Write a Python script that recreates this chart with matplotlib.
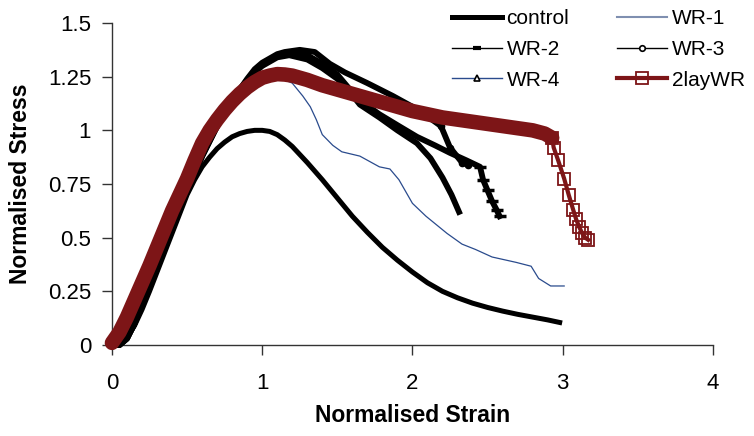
import numpy as np
import matplotlib.pyplot as plt
from matplotlib.lines import Line2D

plt.rcParams['font.family'] = ['Liberation Sans', 'DejaVu Sans']

# control
control_x = [0, 0.05, 0.1, 0.15, 0.2, 0.25, 0.3, 0.35, 0.4, 0.45, 0.5, 0.55, 0.6, 0.65, 0.7,
             0.75, 0.8, 0.85, 0.9, 0.95, 1.0, 1.05, 1.1, 1.15, 1.2, 1.3, 1.4, 1.5, 1.6, 1.7,
             1.8, 1.9, 2.0, 2.1, 2.2, 2.3, 2.4, 2.5, 2.6, 2.7, 2.8, 2.9, 2.98]
control_y = [0, 0.005, 0.035, 0.09, 0.165, 0.25, 0.34, 0.43, 0.52, 0.61, 0.70, 0.77, 0.83, 0.875, 0.915,
             0.945, 0.97, 0.985, 0.995, 1.0, 1.0, 0.995, 0.98, 0.955, 0.925, 0.85, 0.77, 0.685, 0.60, 0.525,
             0.455, 0.395, 0.34, 0.29, 0.25, 0.22, 0.195, 0.175, 0.158, 0.143, 0.13, 0.117, 0.105]

# WR-1
wr1_x = [0, 0.1, 0.2, 0.3, 0.4, 0.5, 0.6, 0.7, 0.8, 0.9, 1.0, 1.1, 1.2, 1.27, 1.32, 1.36, 1.40,
         1.47, 1.53, 1.65, 1.78, 1.85, 1.91, 2.0, 2.09, 2.23, 2.33, 2.42, 2.53, 2.69, 2.79, 2.84,
         2.92, 3.01]
wr1_y = [0, 0.12, 0.28, 0.45, 0.62, 0.77, 0.93, 1.04, 1.13, 1.19, 1.23, 1.25, 1.22, 1.16, 1.11, 1.05, 0.98,
         0.93, 0.90, 0.88, 0.83, 0.82, 0.77, 0.66, 0.60, 0.52, 0.47, 0.445, 0.41, 0.385, 0.367, 0.31,
         0.275, 0.275]

# WR-2
wr2_x = [0, 0.05, 0.1, 0.15, 0.2, 0.25, 0.3, 0.35, 0.4, 0.45, 0.5, 0.55, 0.6, 0.65, 0.7, 0.75,
         0.8, 0.85, 0.9, 0.95, 1.0, 1.05, 1.1, 1.2, 1.3, 1.4, 1.5, 1.56, 1.63, 1.71, 1.78, 1.91,
         2.03, 2.15, 2.25, 2.36, 2.45, 2.47, 2.50, 2.53, 2.56, 2.58]
wr2_y = [0, 0.0, 0.03, 0.10, 0.19, 0.28, 0.37, 0.46, 0.55, 0.64, 0.72, 0.80, 0.88, 0.95, 1.02, 1.08,
         1.14, 1.19, 1.235, 1.28, 1.31, 1.33, 1.345, 1.36, 1.35, 1.31, 1.26, 1.21, 1.15, 1.11, 1.075, 1.02,
         0.97, 0.93, 0.895, 0.86, 0.83, 0.77, 0.72, 0.67, 0.63, 0.60]

# WR-3
wr3_x = [0, 0.05, 0.1, 0.15, 0.2, 0.25, 0.3, 0.35, 0.4, 0.45, 0.5, 0.55, 0.6, 0.65, 0.7, 0.75,
         0.8, 0.85, 0.9, 0.95, 1.0, 1.05, 1.1, 1.15, 1.25, 1.35, 1.45, 1.55, 1.7, 1.87, 2.0,
         2.1, 2.19, 2.25, 2.33, 2.37]
wr3_y = [0, 0.0, 0.03, 0.10, 0.19, 0.28, 0.37, 0.46, 0.55, 0.64, 0.72, 0.80, 0.88, 0.95, 1.02, 1.08,
         1.14, 1.19, 1.24, 1.285, 1.315, 1.335, 1.355, 1.365, 1.375, 1.365, 1.31, 1.27, 1.22, 1.16, 1.11,
         1.065, 1.02, 0.92, 0.85, 0.84]

# WR-4
wr4_x = [0, 0.05, 0.1, 0.15, 0.2, 0.25, 0.3, 0.35, 0.4, 0.45, 0.5, 0.55, 0.6, 0.65, 0.7, 0.75,
         0.8, 0.85, 0.9, 0.95, 1.0, 1.05, 1.1, 1.18, 1.3, 1.4, 1.5, 1.56, 1.65, 1.78, 1.9, 2.03,
         2.12, 2.2, 2.26, 2.31]
wr4_y = [0, 0.0, 0.03, 0.10, 0.19, 0.28, 0.37, 0.46, 0.55, 0.64, 0.72, 0.80, 0.88, 0.95, 1.02, 1.08,
         1.14, 1.19, 1.23, 1.27, 1.30, 1.32, 1.34, 1.35, 1.33, 1.29, 1.24, 1.20, 1.12, 1.06, 1.0, 0.94,
         0.87, 0.78, 0.70, 0.62]

# 2layWR
lay_x = [0, 0.05, 0.1, 0.15, 0.2, 0.25, 0.3, 0.35, 0.4, 0.45, 0.5, 0.55, 0.6, 0.65, 0.7, 0.75,
         0.8, 0.85, 0.9, 0.95, 1.0, 1.05, 1.1, 1.15, 1.2, 1.3, 1.4, 1.5, 1.6, 1.7, 1.8, 1.9,
         2.0, 2.1, 2.2, 2.3, 2.4, 2.5, 2.6, 2.7, 2.8, 2.88, 2.93,
         2.94, 2.97, 3.01, 3.04, 3.07, 3.09, 3.11, 3.13, 3.15, 3.17]
lay_y = [0.01, 0.06, 0.13, 0.21, 0.29, 0.37, 0.455, 0.54, 0.625, 0.70, 0.775, 0.86, 0.94, 1.0, 1.05, 1.095,
         1.135, 1.17, 1.20, 1.225, 1.245, 1.255, 1.262, 1.26, 1.255, 1.235, 1.21, 1.19, 1.17, 1.15, 1.13, 1.11,
         1.09, 1.075, 1.06, 1.05, 1.04, 1.03, 1.02, 1.01, 1.0, 0.985, 0.965,
         0.92, 0.86, 0.775, 0.70, 0.63, 0.585, 0.55, 0.52, 0.50, 0.49]
knee = 42  # last point of the flat part

red = '#7d1517'
navy = '#2a4b8d'

fig = plt.figure(figsize=(7.54, 4.36), dpi=100)
ax = fig.add_axes([0.1485, 0.2087, 0.797, 0.7385])

ax.plot(control_x, control_y, color='black', lw=3.6, clip_on=False, zorder=3)
ax.plot(wr1_x, wr1_y, color=navy, lw=0.9, clip_on=False, zorder=4)
ax.plot(wr2_x, wr2_y, color='black', lw=4.2, clip_on=False, zorder=3)
ax.plot(wr3_x, wr3_y, color='black', lw=4.2, clip_on=False, zorder=3)
ax.plot(wr3_x[-4:], wr3_y[-4:], ls='none', marker='o', ms=4.5, mfc='black', mec='black', mew=1,
        clip_on=False, zorder=3)
ax.plot(wr4_x, wr4_y, color='black', lw=4.2, clip_on=False, zorder=3)
ax.plot(wr2_x[-6:], wr2_y[-6:], ls='none', marker='_', ms=8, mew=2.5, color='black', clip_on=False, zorder=3)

# dense band of square markers before the drop
ax.plot(lay_x[:knee + 1], lay_y[:knee + 1], color=red, lw=10.5, solid_capstyle='round',
        clip_on=False, zorder=5)
ax.plot(lay_x[knee:], lay_y[knee:], color=red, lw=3, marker='s', ms=8,
        mfc='none', mec=red, mew=1.3, clip_on=False, zorder=5)

ax.set_xlim(0, 4)
ax.set_ylim(0, 1.5)
ax.set_xticks([0, 1, 2, 3, 4])
ax.set_xticklabels(['0', '1', '2', '3', '4'])
ax.set_yticks([0, 0.25, 0.5, 0.75, 1.0, 1.25, 1.5])
ax.set_yticklabels(['0', '0.25', '0.5', '0.75', '1', '1.25', '1.5'])
ax.spines['top'].set_visible(False)
ax.spines['right'].set_visible(False)
for s in ['left', 'bottom']:
    ax.spines[s].set_color('#333333')
    ax.spines[s].set_linewidth(1.0)
ax.tick_params(axis='x', direction='out', length=7, width=1, pad=13, labelsize=16, color='#333333')
ax.tick_params(axis='y', direction='out', length=7, width=1, pad=8, labelsize=16, color='#333333')

ax.set_xlabel('Normalised Strain', fontsize=16.5, fontweight='bold', labelpad=7)
ax.set_ylabel('Normalised Stress', fontsize=16.5, fontweight='bold', labelpad=11)

handles = [
    Line2D([], [], color='black', lw=3.6),
    Line2D([], [], color='black', lw=1.0, marker='_', ms=6, mew=3),
    Line2D([], [], color=navy, lw=1.0, marker='^', ms=5, mfc='white', mec='black', mew=1.2),
    Line2D([], [], color='#7f8fb0', lw=1.5),
    Line2D([], [], color='black', lw=1.0, marker='o', ms=4, mfc='white', mec='black', mew=1.2),
    Line2D([], [], color=red, lw=3, marker='s', ms=9, mfc='none', mec=red, mew=1.3),
]
labels = ['control', 'WR-2', 'WR-4', 'WR-1', 'WR-3', '2layWR']
fig.legend(handles, labels, ncol=2, loc='upper left', bbox_to_anchor=(452 / 754, 1 - 9 / 436),
           frameon=False, fontsize=15, handlelength=2.4, handletextpad=0.22,
           columnspacing=2.3, labelspacing=0.57, borderpad=0, borderaxespad=0)

fig.savefig('out.png', dpi=100)
